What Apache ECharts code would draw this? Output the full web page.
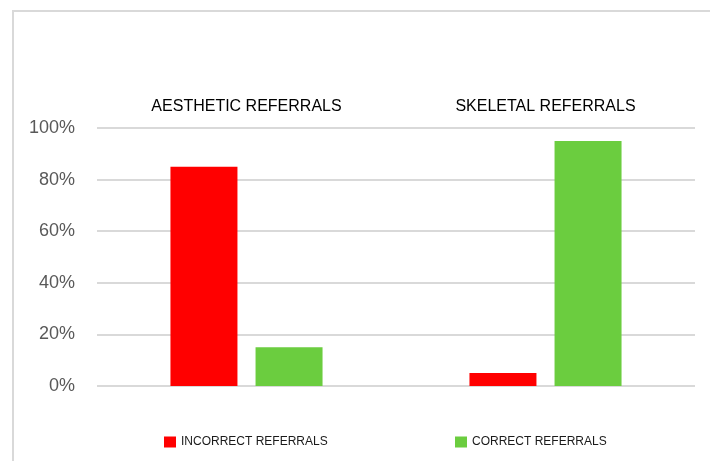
<!DOCTYPE html>
<html>
<head>
<meta charset="utf-8">
<script src="https://cdn.jsdelivr.net/npm/echarts@6/dist/echarts.min.js"></script>
<style>
html,body{margin:0;padding:0;background:#fff;}
#chart{width:710px;height:461px;}
</style>
</head>
<body>
<div id="chart"></div>
<script>
const categories = ['AESTHETIC REFERRALS', 'SKELETAL REFERRALS'];
const seriesNames = ['INCORRECT REFERRALS', 'CORRECT REFERRALS'];
const incorrect = [85, 5];
const correct = [15, 95];
const yTicks = [0, 20, 40, 60, 80, 100];

const chart = echarts.init(document.getElementById('chart'), null, {renderer: 'canvas'});
const fontFam = '"Liberation Sans", Arial, sans-serif';
chart.setOption({
  animation: false,
  backgroundColor: '#ffffff',
  graphic: [{
    type: 'rect',
    shape: {x: 13, y: 11, width: 900, height: 600},
    style: {fill: 'none', stroke: '#d9d9d9', lineWidth: 2},
    z: -1
  }],
  grid: {left: 97, right: 15, top: 128, bottom: 75, containLabel: false},
  legend: [
    {data: [seriesNames[0]], left: 159, top: 431, icon: 'rect', itemWidth: 12, itemHeight: 11, itemGap: 10,
     textStyle: {fontFamily: fontFam, fontSize: 12, color: '#1a1a1a'}},
    {data: [seriesNames[1]], left: 450, top: 431, icon: 'rect', itemWidth: 12, itemHeight: 11, itemGap: 10,
     textStyle: {fontFamily: fontFam, fontSize: 12, color: '#1a1a1a'}}
  ],
  xAxis: {
    type: 'category',
    position: 'top',
    data: categories,
    axisLine: {show: false},
    axisTick: {show: false},
    axisLabel: {margin: 13, fontFamily: fontFam, fontSize: 16, color: '#000'}
  },
  yAxis: {
    type: 'value',
    min: yTicks[0],
    max: yTicks[yTicks.length - 1],
    interval: 20,
    axisLine: {show: false},
    axisTick: {show: false},
    axisLabel: {margin: 22, fontFamily: fontFam, fontSize: 18, color: '#595959', formatter: '{value}%'},
    splitLine: {lineStyle: {color: '#d9d9d9', width: 2}}
  },
  series: [
    {name: seriesNames[0], type: 'bar', data: incorrect, barWidth: 67, barGap: '27%', itemStyle: {color: '#ff0000'}},
    {name: seriesNames[1], type: 'bar', data: correct, barWidth: 67, barGap: '27%', itemStyle: {color: '#6bcd3f'}}
  ]
});
</script>
</body>
</html>
